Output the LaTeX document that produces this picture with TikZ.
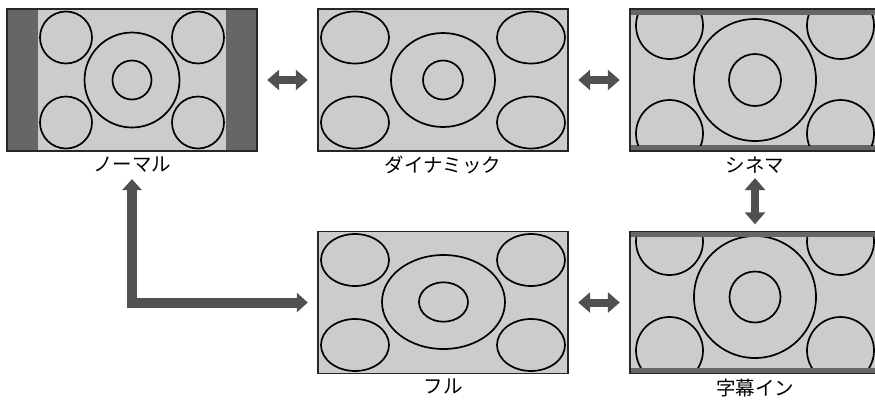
\documentclass[tikz,border=0pt]{standalone}
\usepackage{fontspec}
\newfontfamily\jpfont{Noto Sans CJK JP}
\usetikzlibrary{arrows.meta, positioning}
\definecolor{scrgray}{RGB}{204,204,204}
\definecolor{bargray}{RGB}{102,102,102}
\definecolor{arrgray}{RGB}{80,80,80}

\begin{document}
\begin{tikzpicture}[x=1pt, y=-1pt, font=\jpfont\fontsize{19.5}{22}\selectfont,
  scr/.style={fill=scrgray, minimum width=250pt, minimum height=142pt, inner sep=0pt},
  frame/.style={draw=black!85, line width=1.5pt},
  bar/.style={fill=bargray},
  ring/.style={draw=black, line width=1.7pt},
  lbl/.style={inner sep=1pt},
  dblarrow/.style={draw=arrgray, line width=8pt,
    {Triangle[length=12pt, width=20pt]}-{Triangle[length=12pt, width=20pt]},
    shorten <=10pt, shorten >=10pt},
  larrow/.style={draw=arrgray, line width=10pt, line join=miter,
    {Triangle[length=11pt, width=19pt]}-{Triangle[length=11pt, width=19pt]},
    shorten <=6pt, shorten >=10pt}]
\clip (0,0) rectangle (875,400);

% screens
\node[scr] (scr1) at (132,80) {};
\node[scr] (scr2) at (443,80) {};
\node[scr] (scr3) at (755,80) {};
\node[scr] (scr4) at (443,302.5) {};
\node[scr] (scr5) at (755,302.5) {};

% normal
\fill[bar] (scr1.north west) rectangle ++(31,142);
\fill[bar] (scr1.north east) rectangle ++(-31,142);
\foreach \cx/\cy in {66/37.5, 198/37.5, 66/122.5, 198/122.5}
  \draw[ring] (\cx,\cy) circle[radius=26pt];
\draw[ring] (scr1) circle[radius=47.5pt] circle[radius=19.5pt];

% dynamic
\foreach \cx/\cy in {355/37.5, 531/37.5, 355/122.5, 531/122.5}
  \draw[ring] (\cx,\cy) ellipse[x radius=34pt, y radius=26pt];
\draw[ring] (scr2) ellipse[x radius=52pt, y radius=47pt];
\draw[ring] (scr2) ellipse[x radius=20pt, y radius=19.5pt];

% cinema
\fill[bar] (scr3.north west) rectangle ++(250,6);
\fill[bar] (scr3.south west) rectangle ++(250,-6);
\begin{scope}
  \clip (630,15) rectangle (880,145);
  \foreach \cx/\cy in {669.5/25.5, 840.5/25.5, 669.5/133.5, 840.5/133.5}
    \draw[ring] (\cx,\cy) circle[radius=33.5pt];
\end{scope}
\draw[ring] (scr3) circle[radius=61pt] circle[radius=26pt];

% full
\foreach \cx/\cy in {355/260, 531/260, 355/345, 531/345}
  \draw[ring] (\cx,\cy) ellipse[x radius=34pt, y radius=26pt];
\draw[ring] (443.5,302) ellipse[x radius=61.5pt, y radius=47pt];
\draw[ring] (443.5,302) ellipse[x radius=24.5pt, y radius=19.7pt];

% subtitle
\fill[bar] (scr5.north west) rectangle ++(250,6);
\fill[bar] (scr5.south west) rectangle ++(250,-6);
\begin{scope}
  \clip (630,237.5) rectangle (880,367.5);
  \foreach \cx/\cy in {669.5/241.5, 840.5/241.5, 669.5/350.5, 840.5/350.5}
    \draw[ring] (\cx,\cy) circle[radius=33.5pt];
  \draw[ring] (755,297) circle[radius=61pt] circle[radius=25.5pt];
\end{scope}

\foreach \s in {scr1,scr2,scr3,scr4,scr5}
  \draw[frame] (\s.north west) rectangle (\s.south east);

% labels
\node[lbl, below=4pt of scr1] (lbl1) {ノーマル};
\node[lbl, below=4pt of scr2] (lbl2) {ダイナミック};
\node[lbl, below=4pt of scr3] (lbl3) {シネマ};
\node[lbl, below=4pt of scr4] (lbl4) {フル};
\node[lbl, below=4pt of scr5] (lbl5) {字幕イン};

% arrows
\draw[dblarrow] (scr1) -- (scr2);
\draw[dblarrow] (scr2) -- (scr3);
\draw[dblarrow] (scr4) -- (scr5);
\draw[dblarrow, shorten <=4pt, shorten >=7pt] (lbl3.south) -- (lbl3.south |- scr5.north);
\draw[larrow] (lbl1.south) |- (scr4.west);
\end{tikzpicture}
\end{document}
